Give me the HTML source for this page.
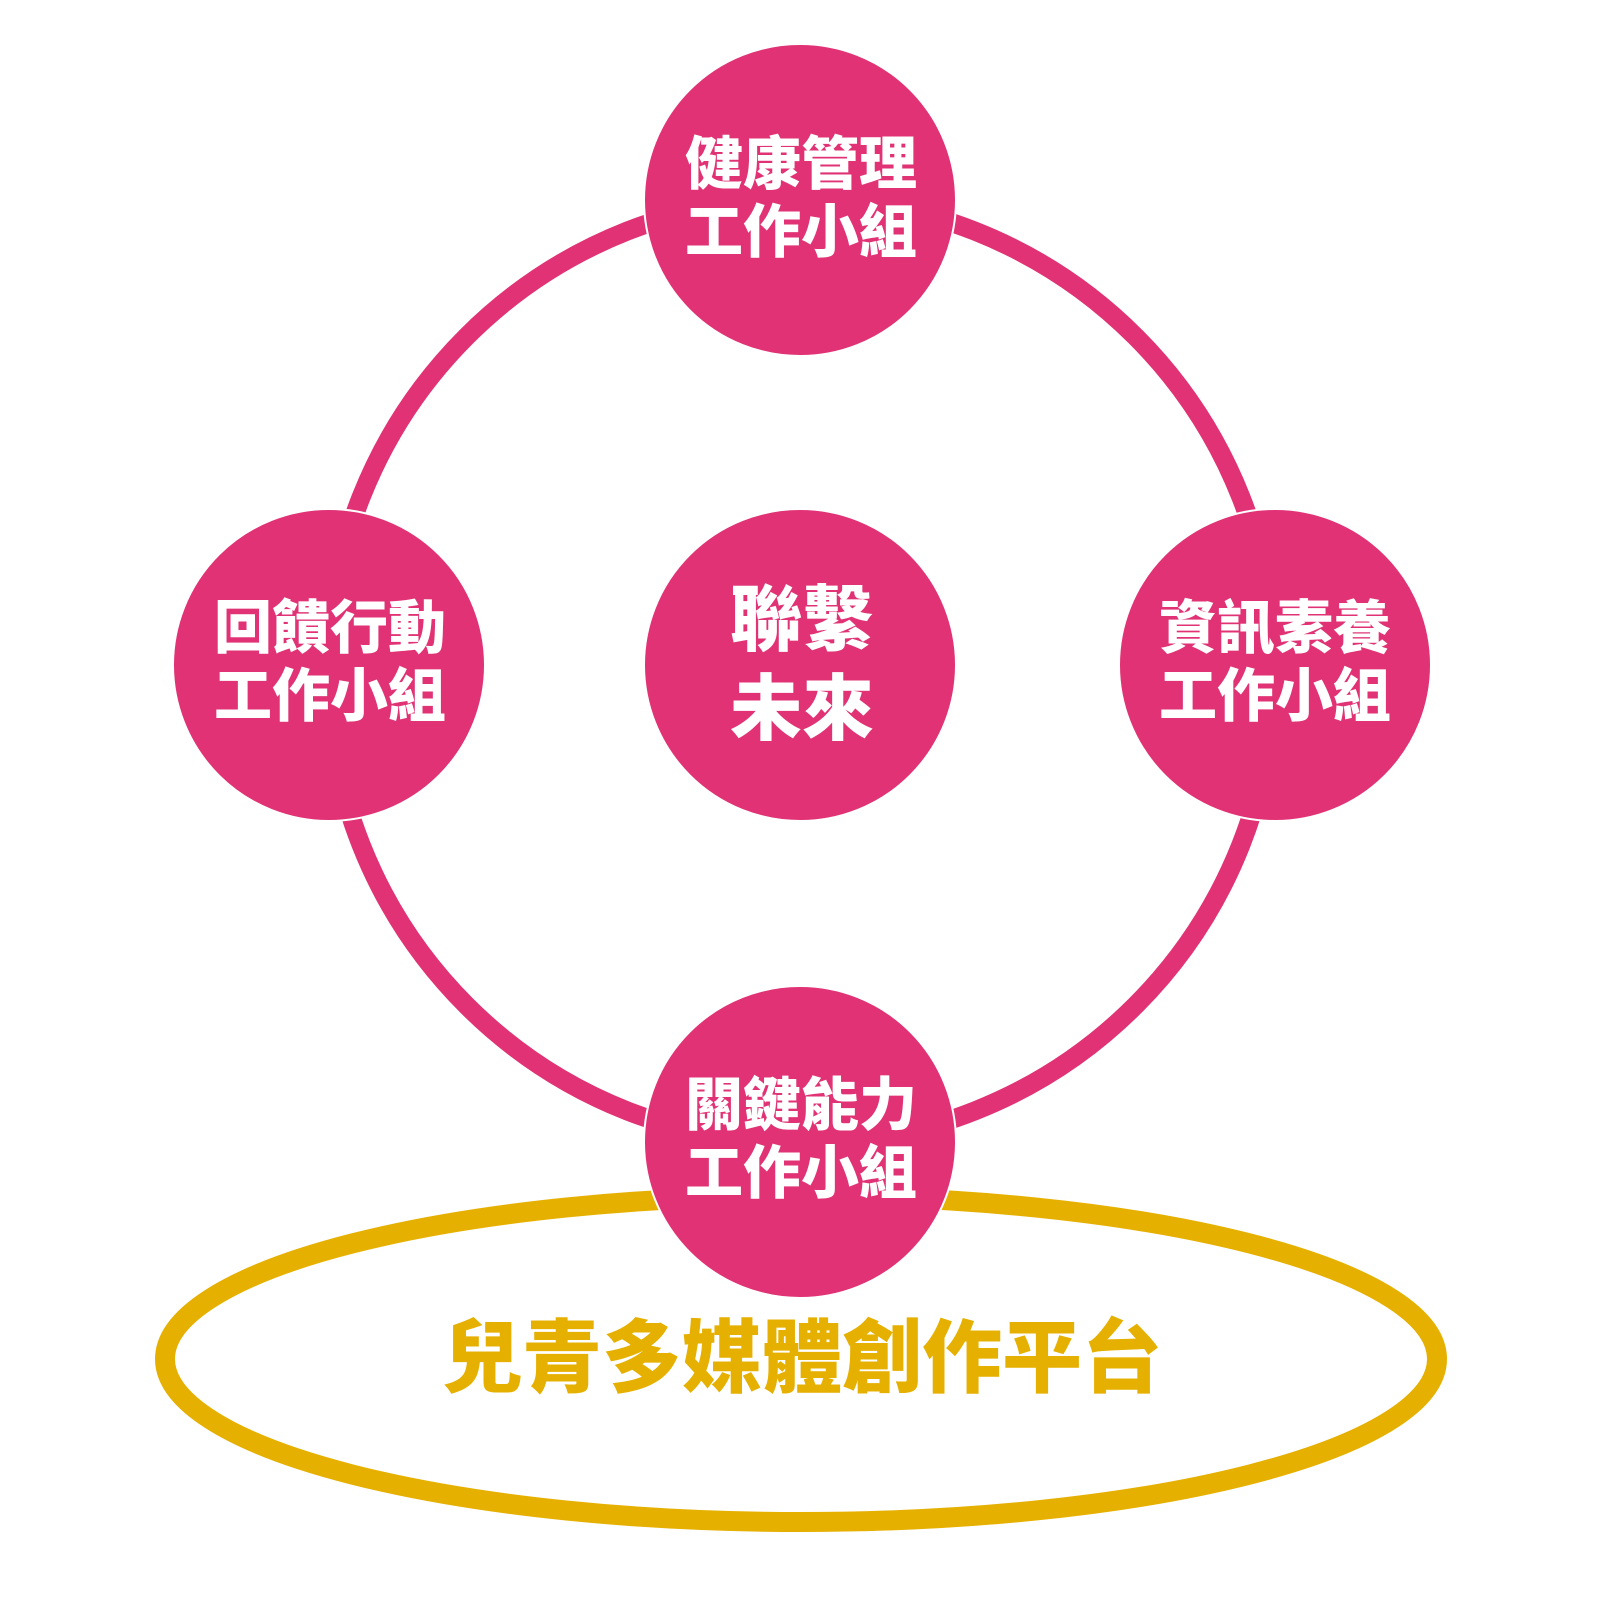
<!DOCTYPE html>
<html><head><meta charset="utf-8"><style>
html,body{margin:0;padding:0;background:#fff;}
svg text{font-family:"Liberation Sans","Noto Sans CJK TC",sans-serif;font-weight:900;text-anchor:middle;}
</style></head><body>
<svg width="1600" height="1600" viewBox="0 0 1600 1600" xmlns="http://www.w3.org/2000/svg">
<ellipse cx="801" cy="1359" rx="636" ry="163" fill="none" stroke="#E6B000" stroke-width="20"/>
<circle cx="801" cy="671" r="473" fill="none" stroke="#E03274" stroke-width="19"/>
<g fill="#E03274" stroke="#fff" stroke-width="2">
<circle cx="800" cy="200" r="156"/>
<circle cx="329" cy="665" r="156"/>
<circle cx="1275" cy="665" r="156"/>
<circle cx="800" cy="665" r="156"/>
<circle cx="800" cy="1142" r="156"/>
</g>
<g fill="#fff" font-size="58">
<text x="801" y="184">健康管理</text><text x="801" y="252">工作小組</text>
<text x="330" y="648">回饋行動</text><text x="330" y="716">工作小組</text>
<text x="1275" y="648">資訊素養</text><text x="1275" y="716">工作小組</text>
<text x="801" y="1125">關鍵能力</text><text x="801" y="1193">工作小組</text>
<text x="802" y="645" font-size="72">聯繫</text><text x="802" y="734" font-size="72">未來</text>
</g>
<text x="802" y="1386" fill="#E6B000" font-size="80">兒青多媒體創作平台</text>
</svg>
</body></html>
